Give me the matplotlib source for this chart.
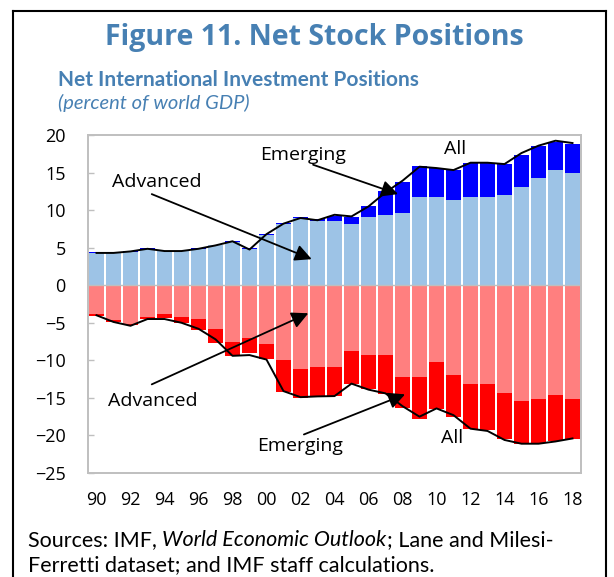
import numpy as np
import matplotlib.pyplot as plt
from matplotlib.lines import Line2D

years = list(range(1990, 2019))
year_labels = [str(y)[2:] for y in years]

# positive side (creditors)
adv_pos = [4.27, 4.27, 4.45, 4.85, 4.5, 4.5, 4.85, 5.3, 5.7, 4.85, 6.7, 8.1, 8.9, 8.6,
           8.57, 8.09, 9.11, 9.33, 9.56, 11.78, 11.78, 11.29, 11.78, 11.78, 12.04,
           13.02, 14.22, 15.38, 14.98]
em_pos = [0.13, 0.13, 0.15, 0.1, 0.1, 0.1, 0.1, 0.1, 0.15, 0.1, 0.15, 0.15, 0.15, 0.15,
          0.59, 0.93, 1.42, 3.16, 4.13, 4.13, 3.82, 4.09, 4.44, 4.44, 4.09,
          4.31, 4.36, 3.72, 3.82]
all_pos = [4.3, 4.3, 4.5, 4.85, 4.55, 4.55, 4.85, 5.3, 5.85, 4.75, 6.8, 8.2, 8.95, 8.65,
           9.38, 9.16, 10.49, 12.36, 13.91, 15.78, 15.6, 15.33, 16.31, 16.31, 16.13,
           17.6, 18.58, 19.24, 18.93]

# negative side (debtors)
adv_neg = [-3.78, -4.67, -5.11, -4.18, -3.87, -4.18, -4.44, -5.87, -7.56, -7.07, -7.87,
           -10.0, -11.2, -10.84, -10.84, -8.76, -9.33, -9.33, -12.22, -12.22, -10.22,
           -12.0, -13.2, -13.2, -14.4, -15.42, -15.2, -14.67, -15.2]
em_neg = [-0.31, -0.22, -0.22, -0.26, -0.53, -0.89, -1.52, -1.86, -1.86, -1.91, -2.0,
          -4.18, -3.87, -4.0, -3.96, -4.34, -4.54, -5.2, -4.09, -5.56, -6.31,
          -5.51, -6.0, -6.13, -6.13, -5.69, -5.78, -6.09, -5.33]
all_neg = [-4.0, -4.89, -5.4, -4.5, -4.5, -5.0, -5.8, -7.2, -9.4, -9.3, -9.9,
           -14.1, -14.9, -14.8, -14.76, -13.1, -13.9, -14.4, -16.1, -17.5, -16.4,
           -17.3, -19.1, -19.4, -20.6, -21.1, -21.1, -20.8, -20.4]

plt.rcParams['font.family'] = ['Open Sans', 'DejaVu Sans']

W, H = 614, 577
fig = plt.figure(figsize=(W / 100, H / 100), dpi=100)
ax = fig.add_axes([88 / W, (H - 473) / H, 493 / W, 338 / H])

x = np.arange(len(years))
bw = 0.86
ax.bar(x, adv_pos, bw, color='#9dc3e6', zorder=2)
ax.bar(x, em_pos, bw, bottom=adv_pos, color='#0000ff', zorder=2)
ax.bar(x, adv_neg, bw, color='#ff7f7f', zorder=2)
ax.bar(x, em_neg, bw, bottom=adv_neg, color='#ff0000', zorder=2)
ax.plot(x, all_pos, color='black', lw=1.4, zorder=3)
ax.plot(x, all_neg, color='black', lw=1.4, zorder=3)
ax.axhline(0, color='#bfbfbf', lw=1, zorder=2.5)

ax.set_xlim(-0.5, len(years) - 0.5)
ax.set_ylim(-25, 20)
ax.set_yticks(range(-25, 21, 5))
ax.set_xticks(x[::2])
ax.set_xticklabels(year_labels[::2])
ax.tick_params(axis='y', direction='in', length=4, color='#bfbfbf', width=1,
               labelsize=13, pad=16)
ax.tick_params(axis='x', length=0, labelsize=13, pad=13)
for s in ax.spines.values():
    s.set_color('#bfbfbf')
    s.set_linewidth(1.4)

fs = 14
arrow = dict(arrowstyle='-|>,head_length=1.0,head_width=0.5', color='black', lw=1.3,
             shrinkA=0, shrinkB=0)
ax.text(3.56, 13.7, 'Advanced', fontsize=fs, ha='center', va='center')
ax.annotate('', xy=(12.66, 3.47), xytext=(3.25, 12.13), arrowprops=arrow)
ax.text(12.15, 17.33, 'Emerging', fontsize=fs, ha='center', va='center')
ax.annotate('', xy=(17.74, 12.13), xytext=(12.74, 16.04), arrowprops=arrow)
ax.text(21.09, 18.13, 'All', fontsize=fs, ha='center', va='center')
ax.text(3.32, -15.47, 'Advanced', fontsize=fs, ha='center', va='center')
ax.annotate('', xy=(12.46, -3.73), xytext=(3.25, -13.2), arrowprops=arrow)
ax.text(11.97, -21.47, 'Emerging', fontsize=fs, ha='center', va='center')
ax.annotate('', xy=(18.15, -14.53), xytext=(12.2, -19.87), arrowprops=arrow)
ax.text(20.9, -20.4, 'All', fontsize=fs, ha='center', va='center')

blue = '#4780b3'
fig.text(314 / W, 1 - 38 / H, 'Figure 11. Net Stock Positions', fontsize=20.5,
         fontweight='bold', color=blue, ha='center', va='center')
fig.text(58 / W, 1 - 80 / H, 'Net International Investment Positions', fontsize=15,
         fontweight='bold', color=blue, ha='left', va='center', family='Lato')
fig.text(58 / W, 1 - 103 / H, '(percent of world GDP)', fontsize=14.5, style='italic',
         color=blue, ha='left', va='center', family='Lato')

# sources line with italic title piece
renderer = fig.canvas.get_renderer()
xpos = 28
for txt, st in [('Sources: IMF, ', 'normal'), ('World Economic Outlook', 'italic'),
                ('; Lane and Milesi-', 'normal')]:
    t = fig.text(xpos / W, 1 - 540 / H, txt, fontsize=15.5, style=st, family='Lato',
                 ha='left', va='center')
    xpos += t.get_window_extent(renderer).width
fig.text(28 / W, 1 - 575 / H, 'Ferretti dataset; and IMF staff calculations.',
         fontsize=15.5, family='Lato', ha='left', va='bottom')

# panel border
for xs, ys in [([13, 13], [H, 11]), ([13, 606], [11, 11]), ([606, 606], [11, H])]:
    fig.add_artist(Line2D([v / W for v in xs], [1 - v / H for v in ys],
                          color='black', lw=1.5))

fig.savefig('out.png', dpi=100)
